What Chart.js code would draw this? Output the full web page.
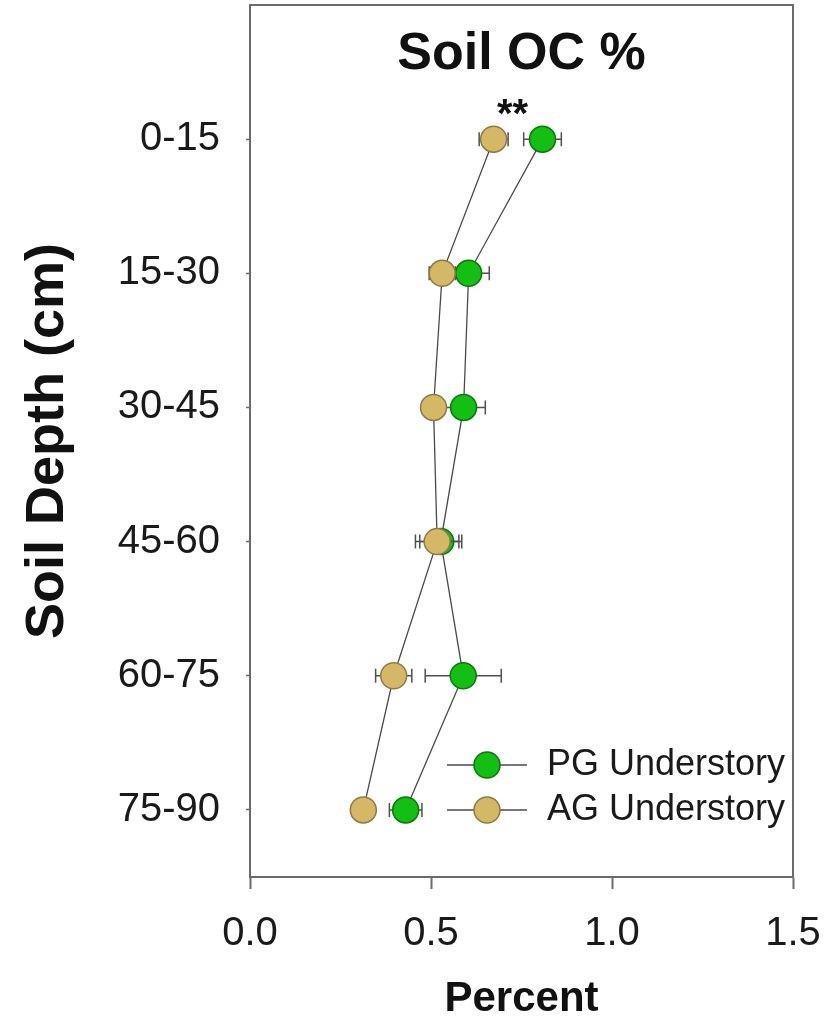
<!DOCTYPE html>
<html>
<head>
<meta charset="utf-8">
<script src="https://cdn.jsdelivr.net/npm/chart.js@4"></script>
<style>
  body { margin: 0; background: #fff; }
  canvas { display: block; }
</style>
</head>
<body>
<canvas id="oc-chart" width="827" height="1029"></canvas>
<script>
// Data
const depthLabels = ['0-15', '15-30', '30-45', '45-60', '60-75', '75-90'];
const depthIndex = [1, 2, 3, 4, 5, 6];
const pgMeans = [0.808, 0.604, 0.590, 0.527, 0.589, 0.430];
const pgErrors = [0.052, 0.057, 0.060, 0.058, 0.105, 0.045];
const agMeans = [0.673, 0.531, 0.507, 0.517, 0.397, 0.313];
const agErrors = [0.040, 0.036, 0.030, 0.060, 0.050, 0.030];
const xTicks = [0, 0.5, 1.0, 1.5];
const sigMark = '**';
const sigAt = 0.725;

const FONT = "'Liberation Sans', Arial, sans-serif";
const AXIS_GREY = '#6b6b6b';

function toPoints(means) {
    return means.map((m, i) => ({ x: m, y: depthIndex[i] }));
}

// horizontal error bars with caps, drawn under each series
const errorBars = {
    id: 'errorBars',
    beforeDatasetDraw(chart, args) {
        const ds = chart.data.datasets[args.index];
        if (!ds.errors) return;
        const { ctx, scales: { x, y } } = chart;
        ctx.save();
        ctx.strokeStyle = '#505050';
        ctx.lineWidth = 1.5;
        ds.data.forEach((p, i) => {
            const e = ds.errors[i];
            const py = y.getPixelForValue(p.y);
            const x0 = x.getPixelForValue(p.x - e);
            const x1 = x.getPixelForValue(p.x + e);
            ctx.beginPath();
            ctx.moveTo(x0, py); ctx.lineTo(x1, py);
            ctx.moveTo(x0, py - 7); ctx.lineTo(x0, py + 7);
            ctx.moveTo(x1, py - 7); ctx.lineTo(x1, py + 7);
            ctx.stroke();
        });
        ctx.restore();
    }
};

// frame, inner title, significance mark and legend
const extras = {
    id: 'extras',
    afterDraw(chart) {
        const { ctx, chartArea: a, scales: { x, y } } = chart;
        ctx.save();
        ctx.strokeStyle = AXIS_GREY;
        ctx.lineWidth = 2;
        ctx.beginPath();
        ctx.moveTo(a.left, a.top); ctx.lineTo(a.right, a.top); ctx.lineTo(a.right, a.bottom);
        ctx.stroke();

        ctx.fillStyle = '#111';
        ctx.textAlign = 'center';
        ctx.textBaseline = 'middle';
        ctx.font = 'bold 52px ' + FONT;
        ctx.fillText('Soil OC %', (a.left + a.right) / 2, a.top + 50);

        ctx.textBaseline = 'alphabetic';
        ctx.font = 'bold 40px ' + FONT;
        ctx.fillText(sigMark, x.getPixelForValue(sigAt), y.getPixelForValue(depthIndex[0]) - 12);

        // legend, PG first
        const order = [0, 1];
        order.forEach((di, row) => {
            const ds = chart.data.datasets[di];
            const cy = a.bottom - 112 + row * 45;
            const lx = a.right - 346;
            ctx.strokeStyle = ds.borderColor;
            ctx.lineWidth = 1.3;
            ctx.beginPath();
            ctx.moveTo(lx, cy); ctx.lineTo(lx + 80, cy);
            ctx.stroke();
            ctx.beginPath();
            ctx.arc(lx + 40, cy, ds.pointRadius, 0, Math.PI * 2);
            ctx.fillStyle = ds.pointBackgroundColor;
            ctx.fill();
            ctx.strokeStyle = ds.pointBorderColor;
            ctx.lineWidth = ds.pointBorderWidth;
            ctx.stroke();
            ctx.fillStyle = '#1a1a1a';
            ctx.font = '36px ' + FONT;
            ctx.textAlign = 'left';
            ctx.textBaseline = 'middle';
            ctx.fillText(ds.label, lx + 100, cy);
        });
        ctx.restore();
    }
};

document.addEventListener('DOMContentLoaded', function () {
    const canvas = document.getElementById('oc-chart').getContext('2d');
    new Chart(canvas, {
        type: 'scatter',
        data: {
            datasets: [
                {
                    label: 'PG Understory',
                    data: toPoints(pgMeans),
                    errors: pgErrors,
                    showLine: true,
                    borderColor: '#4a4a4a',
                    borderWidth: 1.3,
                    pointRadius: 13,
                    pointHoverRadius: 13,
                    pointBackgroundColor: '#12bf12',
                    pointBorderColor: '#0a7a0a',
                    pointBorderWidth: 1.5,
                    order: 2,
                },
                {
                    label: 'AG Understory',
                    data: toPoints(agMeans),
                    errors: agErrors,
                    showLine: true,
                    borderColor: '#4a4a4a',
                    borderWidth: 1.3,
                    pointRadius: 13,
                    pointHoverRadius: 13,
                    pointBackgroundColor: '#d4b866',
                    pointBorderColor: '#8f7b45',
                    pointBorderWidth: 1.5,
                    order: 1,
                },
            ],
        },
        options: {
            responsive: false,
            animation: false,
            layout: { autoPadding: false, padding: { left: 0, top: 5, right: 34, bottom: 0 } },
            plugins: {
                legend: { display: false },
                tooltip: { enabled: false },
            },
            scales: {
                x: {
                    type: 'linear',
                    min: 0,
                    max: 1.5,
                    afterFit(scale) {
                        scale.height = 152;
                        scale.paddingLeft = 0;
                        scale.paddingRight = 0;
                    },
                    afterBuildTicks(scale) { scale.ticks = xTicks.map(v => ({ value: v })); },
                    ticks: {
                        callback: v => v.toFixed(1),
                        font: { family: FONT, size: 40 },
                        color: '#1a1a1a',
                        padding: 21,
                        maxRotation: 0,
                    },
                    grid: { drawOnChartArea: false, drawTicks: true, tickLength: 12, tickColor: AXIS_GREY, tickWidth: 2 },
                    border: { color: AXIS_GREY, width: 2 },
                    title: {
                        display: true,
                        text: 'Percent',
                        font: { family: FONT, size: 42, weight: 'bold' },
                        color: '#111',
                        padding: { top: 4, bottom: 4 },
                    },
                },
                y: {
                    type: 'linear',
                    min: 0,
                    max: 6.5,
                    reverse: true,
                    afterFit(scale) {
                        scale.width = 250;
                        scale.paddingTop = 0;
                        scale.paddingBottom = 0;
                    },
                    afterBuildTicks(scale) { scale.ticks = depthIndex.map(v => ({ value: v })); },
                    ticks: {
                        callback: v => depthLabels[depthIndex.indexOf(v)],
                        font: { family: FONT, size: 40 },
                        color: '#1a1a1a',
                        padding: 26,
                    },
                    grid: { drawOnChartArea: false, drawTicks: true, tickLength: 4, tickColor: AXIS_GREY, tickWidth: 1.5 },
                    border: { color: AXIS_GREY, width: 2 },
                    title: {
                        display: true,
                        text: 'Soil Depth (cm)',
                        font: { family: FONT, size: 54, weight: 'bold' },
                        color: '#111',
                        padding: { top: 16, bottom: 0 },
                    },
                },
            },
        },
        plugins: [errorBars, extras],
    });
});
</script>
</body>
</html>
